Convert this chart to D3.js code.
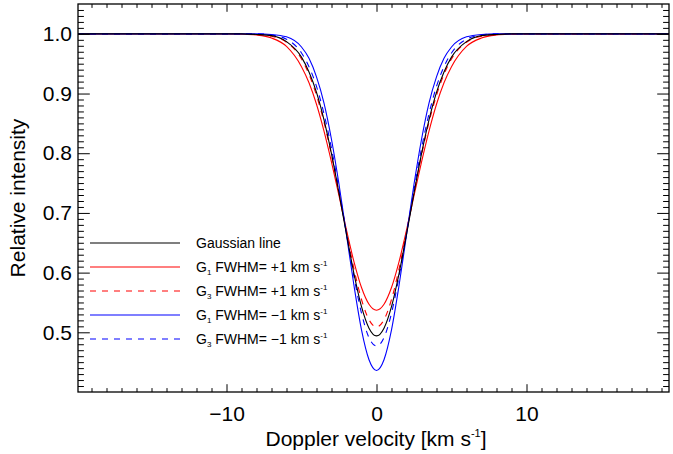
<!DOCTYPE html>
<html><head><meta charset="utf-8">
<script src="https://cdn.jsdelivr.net/npm/d3@7"></script>
<style>body{margin:0;background:#fff}svg{display:block}</style>
</head><body>
<svg id="chart" width="673" height="454"></svg>
<script>
// ---- data ----
const velocity = [-19.9,-10,-9,-8,-7,-6,-5,-4.5,-4,-3.5,-3,-2.5,-2,-1.5,-1,-0.5,0,0.5,1,1.5,2,2.5,3,3.5,4,4.5,5,6,7,8,9,10,19.5];
const gaussianLine = [1.0,1.0,1.0,0.999,0.997,0.987,0.961,0.936,0.902,0.856,0.799,0.733,0.664,0.598,0.543,0.507,0.494,0.507,0.543,0.598,0.664,0.733,0.799,0.856,0.902,0.936,0.961,0.987,0.997,0.999,1.0,1.0,1.0];
const g1Plus = [1.0,1.0,0.9995,0.998,0.993,0.979,0.945,0.918,0.882,0.837,0.785,0.729,0.671,0.618,0.575,0.547,0.537,0.547,0.575,0.618,0.671,0.729,0.785,0.837,0.882,0.918,0.945,0.979,0.993,0.998,0.9995,1.0,1.0];
const g3Plus = [1.0,1.0,1.0,0.999,0.996,0.986,0.958,0.932,0.897,0.852,0.797,0.734,0.668,0.606,0.555,0.521,0.509,0.521,0.555,0.606,0.668,0.734,0.797,0.852,0.897,0.932,0.958,0.986,0.996,0.999,1.0,1.0,1.0];
const g1Minus = [1.0,1.0,1.0,1.0,0.999,0.995,0.978,0.959,0.928,0.884,0.823,0.748,0.663,0.578,0.504,0.454,0.436,0.454,0.504,0.578,0.663,0.748,0.823,0.884,0.928,0.959,0.978,0.995,0.999,1.0,1.0,1.0,1.0];
const g3Minus = [1.0,1.0,1.0,1.0,0.998,0.991,0.968,0.945,0.912,0.866,0.808,0.739,0.665,0.593,0.532,0.491,0.477,0.491,0.532,0.593,0.665,0.739,0.808,0.866,0.912,0.945,0.968,0.991,0.998,1.0,1.0,1.0,1.0];

const xMajorTicks = [-10, 0, 10];
const yMajorTicks = [0.5, 0.6, 0.7, 0.8, 0.9, 1.0];
const xTitle = "Doppler velocity [km s";
const yTitle = "Relative intensity";
const legendMain = ["Gaussian line", "G", "G", "G", "G"];
const legendSub = ["", "1", "3", "1", "3"];
const legendRest = ["", " FWHM= +1 km s", " FWHM= +1 km s", " FWHM= \u22121 km s", " FWHM= \u22121 km s"];

// ---- layout ----
const FONT = "'Liberation Sans', Arial, Helvetica, sans-serif";
const L = 78, R = 669, T = 4, B = 392;
const x = d3.scaleLinear().domain([-19.9, 19.5]).range([L, R]);
const y = d3.scaleLinear().domain([0.4, 1.05]).range([B, T]);

const svg = d3.select("#chart");

// series (colored first, black on top)
const series = [
  {vals: g1Plus, color: "#ff0000", dash: null},
  {vals: g3Plus, color: "#ff0000", dash: "6,6"},
  {vals: g1Minus, color: "#0000ff", dash: null},
  {vals: g3Minus, color: "#0000ff", dash: "6,6"},
  {vals: gaussianLine, color: "#000000", dash: null}
];
const line = d3.line().x((d, i) => x(velocity[i])).y(d => y(d)).curve(d3.curveMonotoneX);
svg.append("clipPath").attr("id", "clip").append("rect")
  .attr("x", L).attr("y", T).attr("width", R - L).attr("height", B - T);
const gLines = svg.append("g").attr("clip-path", "url(#clip)");
series.forEach(s => {
  gLines.append("path").attr("d", line(s.vals)).attr("fill", "none")
    .attr("stroke", s.color).attr("stroke-width", 1.1)
    .attr("stroke-dasharray", s.dash);
});

// axes
const xLenMaj = 7.8, xLenMin = 3.9, yLenMaj = 11.8, yLenMin = 5.9;
const xMinor = d3.range(-19, 20, 1).filter(v => v % 10 !== 0);
const yMinor = d3.range(41, 105, 1).map(v => v / 100).filter(v => Math.round(v * 100) % 10 !== 0);

function styleAxis(g) {
  g.select(".domain").remove();
  g.selectAll("line").attr("stroke", "#000").attr("stroke-width", 1);
  g.selectAll("text").attr("font-family", FONT).attr("font-size", 21).attr("fill", "#000");
}
// bottom
svg.append("g").attr("transform", `translate(0,${B})`)
  .call(d3.axisBottom(x).tickValues(xMajorTicks).tickSize(-xLenMaj).tickPadding(14).tickFormat(d3.format("d")))
  .call(styleAxis);
svg.append("g").attr("transform", `translate(0,${B})`)
  .call(d3.axisBottom(x).tickValues(xMinor).tickSize(-xLenMin).tickFormat(""))
  .call(styleAxis);
// top
svg.append("g").attr("transform", `translate(0,${T})`)
  .call(d3.axisTop(x).tickValues(xMajorTicks).tickSize(-xLenMaj).tickFormat(""))
  .call(styleAxis);
svg.append("g").attr("transform", `translate(0,${T})`)
  .call(d3.axisTop(x).tickValues(xMinor).tickSize(-xLenMin).tickFormat(""))
  .call(styleAxis);
// left
svg.append("g").attr("transform", `translate(${L},0)`)
  .call(d3.axisLeft(y).tickValues(yMajorTicks).tickSize(-yLenMaj).tickPadding(6).tickFormat(d3.format(".1f")))
  .call(styleAxis);
svg.append("g").attr("transform", `translate(${L},0)`)
  .call(d3.axisLeft(y).tickValues(yMinor).tickSize(-yLenMin).tickFormat(""))
  .call(styleAxis);
// right
svg.append("g").attr("transform", `translate(${R},0)`)
  .call(d3.axisRight(y).tickValues(yMajorTicks).tickSize(-yLenMaj).tickFormat(""))
  .call(styleAxis);
svg.append("g").attr("transform", `translate(${R},0)`)
  .call(d3.axisRight(y).tickValues(yMinor).tickSize(-yLenMin).tickFormat(""))
  .call(styleAxis);

// frame
svg.append("rect").attr("x", L).attr("y", T).attr("width", R - L).attr("height", B - T)
  .attr("fill", "none").attr("stroke", "#000").attr("stroke-width", 1.3);

// titles
const xt = svg.append("text").attr("x", 376).attr("y", 446)
  .attr("text-anchor", "middle").attr("font-family", FONT).attr("font-size", 21);
xt.append("tspan").text(xTitle);
xt.append("tspan").attr("font-size", 11).attr("dy", -9).text("-1");
xt.append("tspan").attr("dy", 9).text("]");

svg.append("text").attr("transform", `translate(25,${(T + B) / 2}) rotate(-90)`)
  .attr("text-anchor", "middle").attr("font-family", FONT).attr("font-size", 21)
  .text(yTitle);

// legend
const legRowY = [243, 267, 291, 315, 339];
const legColors = ["#000000", "#ff0000", "#ff0000", "#0000ff", "#0000ff"];
const legDash = [null, null, "6,6", null, "6,6"];
legRowY.forEach((ly, i) => {
  svg.append("line").attr("x1", 90).attr("x2", 180).attr("y1", ly).attr("y2", ly)
    .attr("stroke", legColors[i]).attr("stroke-width", 1.1).attr("stroke-dasharray", legDash[i]);
  const t = svg.append("text").attr("x", 196).attr("y", ly + 5)
    .attr("font-family", FONT).attr("font-size", 14).attr("fill", "#000");
  t.append("tspan").text(legendMain[i]);
  if (legendSub[i]) {
    t.append("tspan").attr("font-size", 8).attr("dy", 3).text(legendSub[i]);
    t.append("tspan").attr("dy", -3).text(legendRest[i]);
    t.append("tspan").attr("font-size", 8).attr("dy", -6).text("-1");
  }
});
</script>
</body></html>
